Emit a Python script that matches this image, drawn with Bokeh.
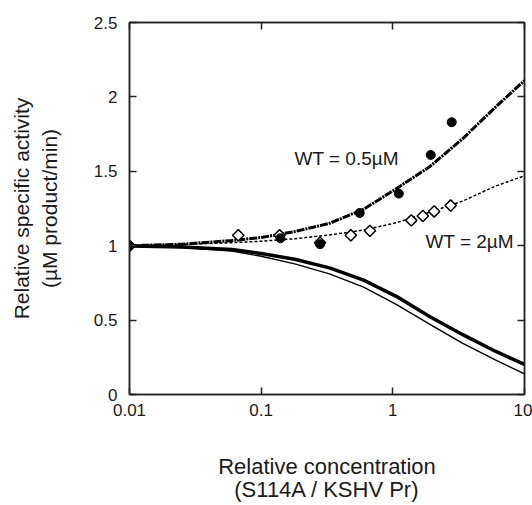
from bokeh.plotting import figure
from bokeh.models import LogAxis, LinearAxis, FixedTicker, Label, ColumnDataSource
from bokeh.embed import file_html
from bokeh.resources import INLINE

# ---- data ----
curve_x = [0.01, 0.025, 0.06, 0.1, 0.18, 0.33, 0.6, 1.07, 1.9, 3.4, 6, 10]
fit_wt05 = [1.0, 1.01, 1.035, 1.055, 1.095, 1.15, 1.245, 1.385, 1.53, 1.72, 1.93, 2.11]
fit_wt2 = [1.0, 1.008, 1.02, 1.03, 1.047, 1.072, 1.105, 1.155, 1.225, 1.30, 1.40, 1.47]
sim_thick = [0.998, 0.991, 0.975, 0.947, 0.909, 0.851, 0.769, 0.658, 0.524, 0.402, 0.291, 0.202]
sim_thin = [0.998, 0.987, 0.964, 0.929, 0.878, 0.811, 0.722, 0.604, 0.473, 0.344, 0.233, 0.138]

wt05_x = [0.01, 0.14, 0.28, 0.56, 1.11, 1.94, 2.8]
wt05_y = [1.0, 1.05, 1.01, 1.22, 1.35, 1.61, 1.83]

wt2_x = [0.01, 0.067, 0.138, 0.28, 0.48, 0.67, 1.38, 1.69, 2.06, 2.75]
wt2_y = [1.0, 1.07, 1.07, 1.02, 1.07, 1.10, 1.17, 1.20, 1.23, 1.27]

x_ticks = [0.01, 0.1, 1, 10]
x_tick_labels = ["0.01", "0.1", "1", "10"]
y_ticks = [0, 0.5, 1, 1.5, 2, 2.5]
y_tick_labels = ["0", "0.5", "1", "1.5", "2", "2.5"]

FONT = "Liberation Sans"
AX = "#222222"
TXT = "#1a1a1a"

p = figure(width=532, height=505, x_axis_type="log", x_range=(0.01, 10), y_range=(0, 2.5),
           output_backend="svg", toolbar_location=None,
           min_border_left=129, min_border_right=8, min_border_top=22, min_border_bottom=108)
p.grid.visible = False
p.outline_line_color = AX
p.outline_line_width = 1.5
p.background_fill_color = "white"
p.border_fill_color = "white"

bottom = p.below[0]
left = p.left[0]

def style_axis(ax, ticks, labels, show_labels=True, standoff=8):
    ax.ticker = FixedTicker(ticks=ticks)
    ax.major_tick_in = 7
    ax.major_tick_out = 0
    ax.minor_tick_in = 0
    ax.minor_tick_out = 0
    ax.axis_line_color = AX
    ax.axis_line_width = 1.5
    ax.major_tick_line_color = AX
    ax.major_tick_line_width = 1.5
    ax.major_label_text_font = FONT
    ax.major_label_text_color = TXT
    ax.major_label_text_font_size = "17px"
    if show_labels:
        ax.major_label_overrides = {t: l for t, l in zip(ticks, labels)}
        ax.major_label_standoff = standoff
    else:
        ax.major_label_overrides = {t: "" for t in ticks}
        ax.major_label_standoff = 0

style_axis(bottom, x_ticks, x_tick_labels, standoff=9)
style_axis(left, y_ticks, y_tick_labels, standoff=12)

top = LogAxis()
style_axis(top, x_ticks, x_tick_labels, show_labels=False)
p.add_layout(top, "above")
right = LinearAxis()
style_axis(right, y_ticks, y_tick_labels, show_labels=False)
p.add_layout(right, "right")

bottom.axis_label = "Relative concentration\n(S114A / KSHV Pr)"
bottom.axis_label_text_font = FONT
bottom.axis_label_text_font_size = "22px"
bottom.axis_label_text_font_style = "normal"
bottom.axis_label_text_color = TXT
bottom.axis_label_text_line_height = 0.95
bottom.axis_label_standoff = 35

left.axis_label = "Relative specific activity\n(µM product/min)"
left.axis_label_text_font = FONT
left.axis_label_text_font_size = "21px"
left.axis_label_text_font_style = "normal"
left.axis_label_text_color = TXT
left.axis_label_standoff = 30

src = ColumnDataSource(dict(x=curve_x, a=fit_wt05, b=fit_wt2, c=sim_thick, d=sim_thin))
p.line("x", "d", source=src, line_color="black", line_width=1.4)
p.line("x", "c", source=src, line_color="black", line_width=3.5)
p.line("x", "b", source=src, line_color="black", line_width=1.5, line_dash="3 2")
p.line("x", "a", source=src, line_color="black", line_width=3, line_dash="8 1 2 1")

p.scatter(wt2_x, wt2_y, marker="square", angle=0.785398, size=8, fill_color="white",
          line_color="black", line_width=1.5)
p.scatter(wt05_x, wt05_y, marker="circle", size=9, fill_color="black", line_color="black")

p.add_layout(Label(x=0.179, y=1.587, text="WT = 0.5µM", text_font=FONT,
                   text_font_size="19px", text_baseline="middle", text_color=TXT))
p.add_layout(Label(x=1.768, y=1.025, text="WT = 2µM", text_font=FONT,
                   text_font_size="19px", text_baseline="middle", text_color=TXT))

open("out.html", "w").write(file_html(p, INLINE))
